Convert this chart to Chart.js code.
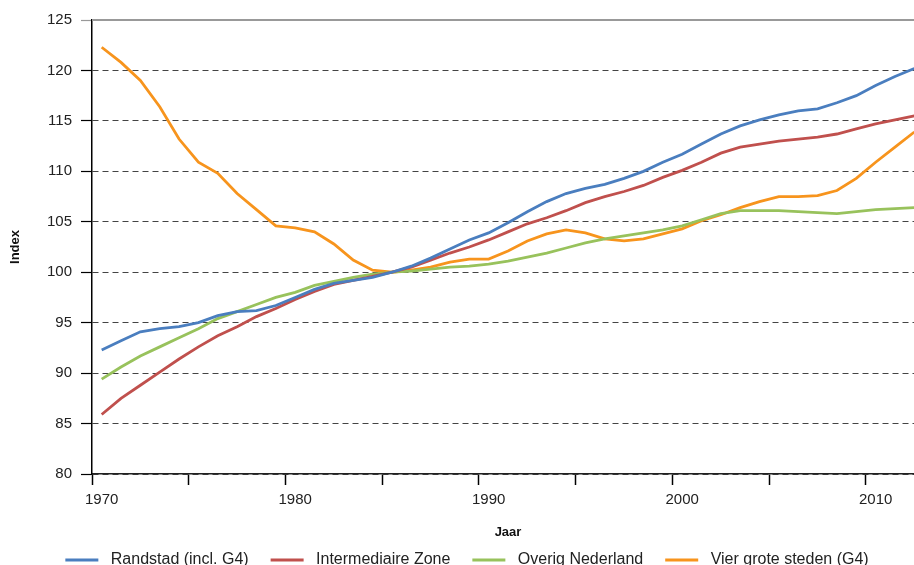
<!DOCTYPE html>
<html>
<head>
<meta charset="utf-8">
<script src="https://cdn.jsdelivr.net/npm/chart.js@4"></script>
<style>
  html, body { margin: 0; padding: 0; background: #fff; overflow: hidden; }
  #wrap { width: 924px; height: 576px; }
</style>
</head>
<body>
<div id="wrap"><canvas id="chart"></canvas></div>
<script>
var years = [];
for (var y = 1970; y <= 2012; y++) years.push(y);

var randstad = [92.3, 93.2, 94.1, 94.4, 94.6, 95.0, 95.7, 96.1, 96.2, 96.7,
  97.5, 98.3, 98.9, 99.2, 99.5, 100.0, 100.6, 101.4, 102.3, 103.2,
  103.9, 104.9, 106.0, 107.0, 107.8, 108.3, 108.7, 109.3, 110.0, 110.9,
  111.7, 112.7, 113.7, 114.5, 115.1, 115.6, 116.0, 116.2, 116.8, 117.5,
  118.5, 119.4, 120.2];
var intermediair = [85.9, 87.5, 88.8, 90.1, 91.4, 92.6, 93.7, 94.6, 95.6, 96.4,
  97.3, 98.1, 98.8, 99.2, 99.6, 100.0, 100.5, 101.2, 101.9, 102.5,
  103.2, 104.0, 104.8, 105.4, 106.1, 106.9, 107.5, 108.0, 108.6, 109.4,
  110.1, 110.9, 111.8, 112.4, 112.7, 113.0, 113.2, 113.4, 113.7, 114.2,
  114.7, 115.1, 115.5];
var overig = [89.4, 90.6, 91.7, 92.6, 93.5, 94.4, 95.4, 96.1, 96.8, 97.5,
  98.0, 98.7, 99.1, 99.5, 99.8, 100.0, 100.1, 100.3, 100.5, 100.6,
  100.8, 101.1, 101.5, 101.9, 102.4, 102.9, 103.3, 103.6, 103.9, 104.2,
  104.6, 105.2, 105.8, 106.1, 106.1, 106.1, 106.0, 105.9, 105.8, 106.0,
  106.2, 106.3, 106.4];
var g4 = [122.3, 120.8, 119.0, 116.4, 113.2, 110.9, 109.8, 107.8, 106.2, 104.6,
  104.4, 104.0, 102.8, 101.2, 100.2, 100.0, 100.2, 100.5, 101.0, 101.3,
  101.3, 102.1, 103.1, 103.8, 104.2, 103.9, 103.3, 103.1, 103.3, 103.8,
  104.3, 105.1, 105.7, 106.4, 107.0, 107.5, 107.5, 107.6, 108.1, 109.3,
  110.9, 112.4, 113.9];

var seriesNames = ['Randstad (incl. G4)', 'Intermediaire Zone', 'Overig Nederland', 'Vier grote steden (G4)'];
var seriesData = [randstad, intermediair, overig, g4];
var colors = ['#4A7EBF', '#C0504D', '#98C25C', '#F7941D'];

var font = "'Liberation Sans', Arial, sans-serif";

// grijze lijn bovenaan en legenda iets verschoven
var framePlugin = {
  id: 'frame',
  afterLayout: function(chart) {
    chart.legend.left += 5;
    chart.legend.right += 5;
    chart.legend.top += 2;
    chart.legend.bottom += 2;
  },
  beforeDatasetsDraw: function(chart) {
    var c = chart.ctx, a = chart.chartArea;
    c.save();
    c.strokeStyle = '#999';
    c.lineWidth = 2;
    c.beginPath();
    c.moveTo(a.left, a.top);
    c.lineTo(a.right, a.top);
    c.stroke();
    c.restore();
  }
};

var datasets = seriesNames.map(function(name, i) {
  return {
    label: name,
    data: seriesData[i],
    borderColor: colors[i],
    backgroundColor: colors[i],
    borderWidth: 2.8,
    pointRadius: 0,
    tension: 0
  };
});

new Chart(document.getElementById('chart'), {
  type: 'line',
  data: { labels: years, datasets: datasets },
  plugins: [framePlugin],
  options: {
    responsive: true,
    maintainAspectRatio: false,
    animation: false,
    layout: { padding: { top: 20, right: 0, bottom: 0, left: 0 } },
    plugins: {
      tooltip: { enabled: false },
      legend: {
        position: 'bottom',
        labels: {
          boxWidth: 33,
          boxHeight: 3,
          padding: 22,
          color: '#222',
          font: { family: font, size: 16 },
          generateLabels: function(chart) {
            var items = Chart.defaults.plugins.legend.labels.generateLabels(chart);
            items.forEach(function(it) { it.lineWidth = 0; it.text = ' ' + it.text; });
            return items;
          }
        }
      }
    },
    scales: {
      x: {
        type: 'category',
        offset: true,
        afterFit: function(s) { s.height = 54; },
        grid: {
          offset: true,
          drawOnChartArea: false,
          drawTicks: true,
          tickLength: 11,
          tickWidth: 1.5,
          tickColor: function(ctx) { return ctx.index % 5 === 0 ? '#000' : 'rgba(0,0,0,0)'; }
        },
        border: { display: true, color: '#222', width: 1.5 },
        ticks: {
          autoSkip: false,
          maxRotation: 0,
          padding: 6,
          color: '#222',
          font: { family: font, size: 15 },
          callback: function(v, i) { return years[i] % 10 === 0 ? String(years[i]) : ''; }
        },
        title: {
          display: true,
          text: 'Jaar',
          color: '#111',
          font: { family: font, size: 13, weight: 'bold' },
          padding: { top: 0, bottom: -11.8 }
        }
      },
      y: {
        min: 80,
        max: 125,
        afterFit: function(s) { s.width = 92; },
        grid: {
          color: function(ctx) { return ctx.tick && ctx.tick.value === 125 ? 'rgba(0,0,0,0)' : '#444'; },
          lineWidth: 1,
          tickLength: 11,
          tickWidth: 1.2,
          tickBorderDash: [],
          tickColor: function(ctx) { return ctx.tick && ctx.tick.value === 125 ? '#999' : '#000'; }
        },
        border: { display: true, color: '#000', width: 1.5, dash: [6, 4] },
        ticks: {
          stepSize: 5,
          padding: 9,
          color: '#222',
          font: { family: font, size: 15 },
        },
        title: {
          display: true,
          text: 'Index',
          color: '#111',
          font: { family: font, size: 13, weight: 'bold' },
          padding: { top: 8, bottom: 0 }
        }
      }
    }
  }
});
</script>
</body>
</html>
